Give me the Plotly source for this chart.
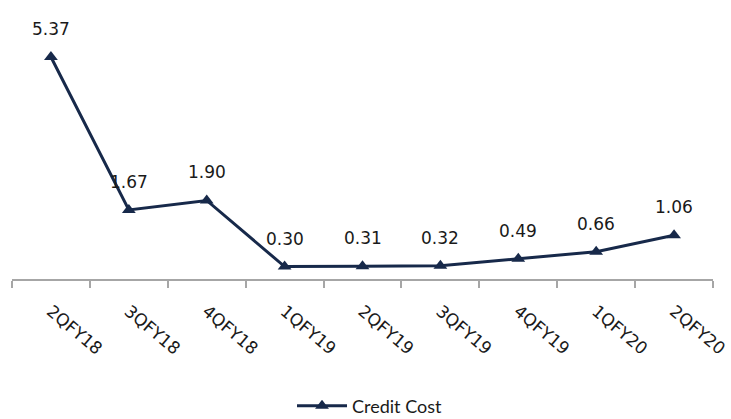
import plotly.graph_objects as go

quarters = ["2QFY18", "3QFY18", "4QFY18", "1QFY19", "2QFY19",
            "3QFY19", "4QFY19", "1QFY20", "2QFY20"]
credit_cost = [5.37, 1.67, 1.90, 0.30, 0.31, 0.32, 0.49, 0.66, 1.06]

navy = "#17294A"

fig = go.Figure()
fig.add_trace(go.Scatter(
    x=quarters,
    y=credit_cost,
    mode="lines+markers",
    name="Credit Cost",
    line=dict(color=navy, width=3),
    marker=dict(symbol="triangle-up", size=12, color=navy),
    cliponaxis=False,
))

# value labels above each point
for q, v in zip(quarters, credit_cost):
    fig.add_annotation(
        x=q, y=v, text=f"{v:.2f}",
        showarrow=False, yanchor="middle", yshift=28,
        font=dict(family="DejaVu Sans", size=17, color="#1a1a1a"),
    )

fig.update_layout(
    width=731, height=419,
    margin=dict(l=12, r=18, t=31, b=140, autoexpand=False),
    paper_bgcolor="white",
    plot_bgcolor="white",
    showlegend=True,
    legend=dict(
        orientation="h",
        x=0.51, xanchor="center",
        y=-0.512, yanchor="middle",
        font=dict(family="Lato", size=18, color="#1a1a1a"),
        itemwidth=50,
    ),
    xaxis=dict(
        type="category",
        automargin=False,
        showline=True, linecolor="#A6A6A6", linewidth=1.5,
        ticks="outside", tickson="boundaries", ticklen=7,
        tickcolor="#A6A6A6", tickwidth=1.5,
        tickangle=40,
        ticklabelstandoff=14,
        tickfont=dict(family="DejaVu Sans", size=17, color="#1a1a1a"),
        showgrid=False,
        range=[-0.5, 8.5],
    ),
    yaxis=dict(
        range=[0, 6],
        visible=False,
        showgrid=False,
        zeroline=False,
    ),
)

fig.write_html("out.html")
